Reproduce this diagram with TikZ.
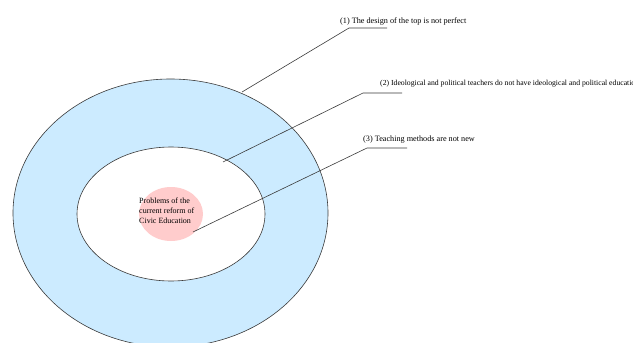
\documentclass[tikz,border=0pt]{standalone}
\usepackage{fontspec}
\setmainfont{Liberation Serif}
\usetikzlibrary{shapes.geometric}
\definecolor{ringblue}{HTML}{CCEBFF}
\definecolor{corepink}{HTML}{FFCCCC}
\definecolor{linegray}{HTML}{3A3A3A}
\begin{document}
\begin{tikzpicture}[x=1pt,y=-1pt,
  ring/.style={ellipse, draw=linegray, line width=0.6pt, inner sep=0pt},
  leader/.style={draw=linegray, line width=0.6pt},
  lbl/.style={font=\fontsize{8.2}{10}\selectfont, inner sep=0pt, anchor=base west},
  coretext/.style={font=\fontsize{8}{10}\selectfont, align=left, inner sep=0pt}]
\useasboundingbox (0,0) rectangle (633,343);
\clip (0,0) rectangle (633,343);
\node[ring, fill=ringblue, minimum width=315pt, minimum height=268pt] (outer) at (170.5,213) {};
\node[ring, fill=white, minimum width=188pt, minimum height=134pt] (inner) at (171,214) {};
\node[ellipse, fill=corepink, minimum width=64pt, minimum height=54pt, inner sep=0pt] (core) at (171,214) {};
\node[coretext, anchor=north west] (coretxt) at (139,198) {Problems of the\\current reform of\\Civic Education};
% labels
\node[lbl] (l1) at (340,23) {(1) The design of the top is not perfect};
\node[lbl, font=\fontsize{7.7}{10}\selectfont] (l2) at (380,85) {(2) Ideological and political teachers do not have ideological and political education};
\node[lbl] (l3) at (363,141) {(3) Teaching methods are not new};
% leader points
\coordinate (s1) at (242,92);
\coordinate (k1) at (349,28);
\coordinate (e1) at (387,28);
\coordinate (s2) at (223,162);
\coordinate (k2) at (363,93);
\coordinate (e2) at (402,93);
\coordinate (s3) at (193,232);
\coordinate (k3) at (367,148);
\coordinate (e3) at (407,148);
\draw[leader] (s1) -- (k1) -- (e1);
\draw[leader] (s2) -- (k2) -- (e2);
\draw[leader] (s3) -- (k3) -- (e3);
\end{tikzpicture}
\end{document}
